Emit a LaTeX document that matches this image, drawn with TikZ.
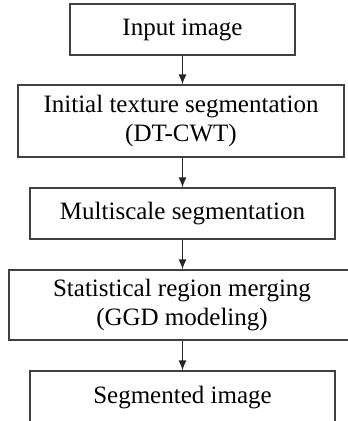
\documentclass[tikz,border=0pt]{standalone}
\usepackage{fontspec}
\setmainfont{Liberation Serif}
\usetikzlibrary{arrows.meta}

\begin{document}
\begin{tikzpicture}[x=1pt, y=-1pt,
    stage/.style={draw=black!75, line width=1.2pt, rectangle, align=center,
      inner sep=0pt, font=\fontsize{25}{28.5}\selectfont},
    flow/.style={draw=black!85, line width=1.2pt, -{Latex[length=10pt,width=8pt]}}]
      %% \draw [help lines] (0,0) grid [step=20] (348,421);
      \useasboundingbox (0,0) rectangle (348,421);
      \clip (0,0) rectangle (348,421);

      \node [stage, minimum width=225, minimum height=51] (input) at (182.5,29.5)
      {Input image};
      \node [stage, minimum width=326, minimum height=72] (texture) at (181,121)
      {Initial texture segmentation\\(DT-CWT)};
      \node [stage, minimum width=305, minimum height=51] (multi) at (182.5,213.5)
      {Multiscale segmentation};
      \node [stage, minimum width=346, minimum height=70] (merge) at (182,305)
      {Statistical region merging\\(GGD modeling)};
      \node [stage, minimum width=305, minimum height=54] (output) at (182.5,398)
      {Segmented image};

      \draw [flow] (input.south) -- (input.south |- texture.north);
      \draw [flow] (input.south |- texture.south) -- (input.south |- multi.north);
      \draw [flow] (input.south |- multi.south) -- (input.south |- merge.north);
      \draw [flow] (input.south |- merge.south) -- (input.south |- output.north);

   \end{tikzpicture}
\end{document}
